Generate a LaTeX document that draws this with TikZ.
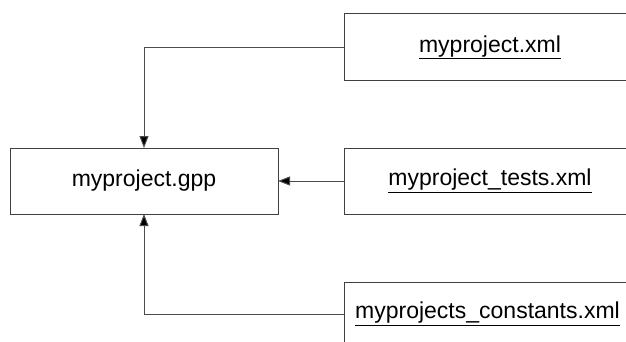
\documentclass[tikz,border=0pt]{standalone}
\usepackage{fontspec}
\setmainfont{Liberation Sans}
\usetikzlibrary{arrows.meta}
\begin{document}
\begin{tikzpicture}[x=1pt,y=-1pt,
  box/.style={draw=black!75, line width=1pt, fill=white},
  lbl/.style={font=\fontsize{23}{26}\selectfont, inner sep=0pt},
  conn/.style={draw=black!70, line width=1pt, -{Triangle[length=12pt,width=9pt,fill=black]}}]
\clip (0,0) rectangle (626,342);
\useasboundingbox (0,0) rectangle (626,342);
\path[box] (10,148) rectangle (278,214);
\node[lbl] (gpp) at (144,181) {myproject.gpp};
\coordinate (gppT) at (144,148);
\coordinate (gppR) at (278,181);
\coordinate (gppB) at (144,214);
\path[box] (344,14) rectangle (640,81);
\node[lbl] (xml) at (490,47.5) {\underline{myproject.xml}};
\coordinate (xmlL) at (344,47.5);
\path[box] (344,148) rectangle (640,214);
\node[lbl] (tests) at (490,181) {\underline{myproject\_tests.xml}};
\coordinate (testsL) at (344,181);
\path[box] (344,282) rectangle (640,350);
\node[lbl, anchor=west] (const) at (355,314) {\underline{myprojects\_constants.xml}};
\coordinate (constL) at (344,314);
\draw[conn] (xmlL) -| (gppT);
\draw[conn] (testsL) -- (gppR);
\draw[conn] (constL) -| (gppB);
\end{tikzpicture}
\end{document}
